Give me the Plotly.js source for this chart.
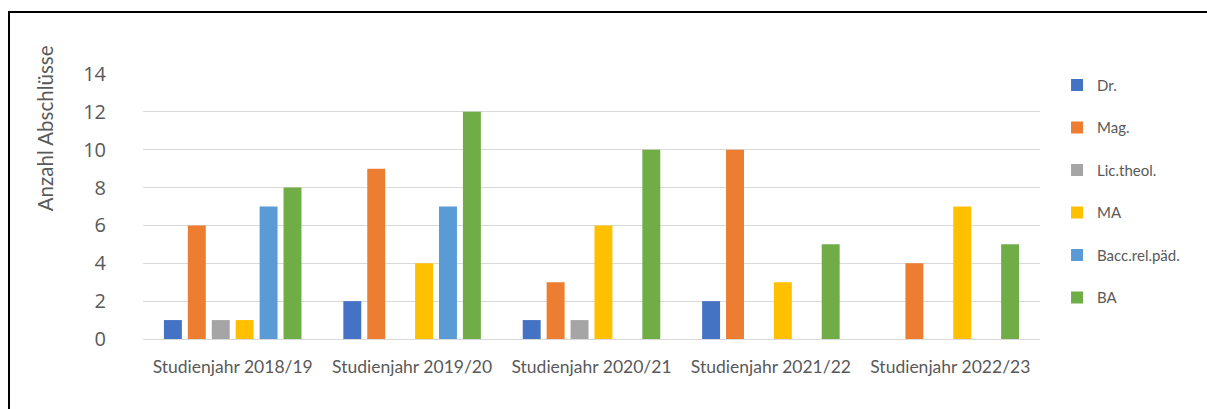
<!DOCTYPE html>
<html>
<head>
<meta charset="utf-8">
<script src="https://cdn.plot.ly/plotly-3.0.1.min.js"></script>
<style>
html,body{margin:0;padding:0;overflow:hidden;background:#fff;}
#frame{position:absolute;left:8px;top:11px;width:1300px;height:500px;border:2px solid #000;box-sizing:border-box;}
#chart{position:absolute;left:0;top:0;width:1207px;height:409px;}
</style>
</head>
<body>
<div id="frame"></div>
<div id="chart"></div>
<script>
const categories = ["Studienjahr 2018/19","Studienjahr 2019/20","Studienjahr 2020/21","Studienjahr 2021/22","Studienjahr 2022/23"];
const seriesNames = ["Dr.","Mag.","Lic.theol.","MA","Bacc.rel.päd.","BA"];
const dr    = [1, 2, 1, 2, 0];
const mag   = [6, 9, 3, 10, 4];
const lic   = [1, 0, 1, 0, 0];
const ma    = [1, 4, 6, 3, 7];
const bacc  = [7, 7, 0, 0, 0];
const ba    = [8, 12, 10, 5, 5];
const yTicks = [0, 2, 4, 6, 8, 10, 12, 14];
const yTitle = 'Anzahl Abschlüsse';
const colors = ["#4472C4","#ED7D31","#A5A5A5","#FFC000","#5B9BD5","#70AD47"];
const values = [dr, mag, lic, ma, bacc, ba];

const traces = values.map((v, i) => ({
  type: 'bar', x: categories, y: v, name: seriesNames[i],
  marker: {color: colors[i]}, legendgroup: 'g' + i, hoverinfo: 'none'
}));

const layout = {
  width: 1207, height: 409,
  margin: {l: 143, r: 167, t: 74, b: 70},
  paper_bgcolor: 'rgba(0,0,0,0)', plot_bgcolor: 'rgba(0,0,0,0)',
  barmode: 'group', bargap: 0.2, bargroupgap: 0.25,
  font: {family: 'Lato, "Open Sans", sans-serif', color: '#595959'},
  xaxis: {
    showgrid: false, zeroline: false, showline: false,
    tickfont: {size: 17.5, color: '#595959'}, ticklabelstandoff: 15
  },
  yaxis: {
    range: [0, 14], tickvals: yTicks, ticktext: yTicks.map(String),
    showgrid: true, gridcolor: '#d9d9d9', gridwidth: 1,
    zeroline: true, zerolinecolor: '#d9d9d9', zerolinewidth: 1,
    tickfont: {size: 20, family: '"Open Sans", sans-serif', color: '#595959'}, ticklabelstandoff: 36
  },
  annotations: [{
    text: yTitle, textangle: -90, xref: 'paper', yref: 'paper',
    x: -0.109, y: 0.796, xanchor: 'center', yanchor: 'middle', showarrow: false,
    font: {size: 20.5, color: '#595959'}
  }],
  showlegend: true,
  legend: {
    x: 1.019, xanchor: 'left', y: 1.02, yanchor: 'top', maxheight: 1,
    font: {size: 15, color: '#595959'}, traceorder: 'grouped', tracegroupgap: 20,
    itemwidth: 30, bgcolor: 'rgba(0,0,0,0)'
  }
};
Plotly.newPlot('chart', traces, layout, {staticPlot: true, displayModeBar: false});
</script>
</body>
</html>
